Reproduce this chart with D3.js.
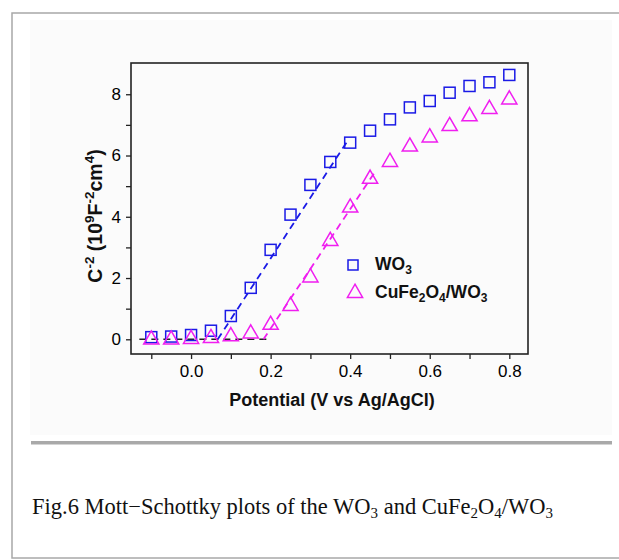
<!DOCTYPE html>
<html>
<head>
<meta charset="utf-8">
<script src="https://cdn.jsdelivr.net/npm/d3@7"></script>
<style>
  body { margin: 0; background: #fff; }
  text { font-family: Arial, "Liberation Sans", sans-serif; }
</style>
</head>
<body>
<script>
// potentials (V vs Ag/AgCl)
var potential = [-0.1, -0.05, 0.0, 0.05, 0.1, 0.15, 0.2, 0.25, 0.3, 0.35, 0.4, 0.45, 0.5, 0.55, 0.6, 0.65, 0.7, 0.75, 0.8];
// C^-2 values, 10^9 F^-2 cm^4
var wo3 = [0.07, 0.09, 0.14, 0.28, 0.76, 1.68, 2.92, 4.07, 5.04, 5.79, 6.42, 6.81, 7.18, 7.57, 7.78, 8.05, 8.27, 8.39, 8.63];
var cfoWo3 = [0.02, 0.02, 0.04, 0.07, 0.13, 0.22, 0.5, 1.12, 2.05, 3.24, 4.33, 5.27, 5.82, 6.32, 6.62, 6.99, 7.31, 7.55, 7.86];
// linear fits (dashed)
var fitWo3 = [[0.067, 0], [0.392, 6.45]];
var fitCfo = [[0.182, 0], [0.46, 5.42]];
var baseLine = [[-0.13, 0], [0.19, 0]];
var xTicks = [0.0, 0.2, 0.4, 0.6, 0.8];
var xMinor = [-0.1, 0.1, 0.3, 0.5, 0.7];
var yTicks = [0, 2, 4, 6, 8];
var yMinor = [1, 3, 5, 7];

var svg = d3.select("body").append("svg")
    .attr("width", 619).attr("height", 560);

// page frame
svg.append("rect")
    .attr("x", 12).attr("y", 13).attr("width", 640).attr("height", 545)
    .attr("fill", "#fff").attr("stroke", "#a8a8a8").attr("stroke-width", 1.5);

// faint image background
svg.append("rect")
    .attr("x", 30).attr("y", 20).attr("width", 582).attr("height", 415)
    .attr("fill", "#fbfbfb");

// separator
svg.append("rect")
    .attr("x", 31).attr("y", 441).attr("width", 581).attr("height", 3.5)
    .attr("fill", "#a9a9a9");

// caption
var cap = svg.append("text")
    .attr("x", 32).attr("y", 514)
    .style("font-family", "'Liberation Serif', 'Times New Roman', serif")
    .style("font-size", "22.5px").attr("fill", "#111");
cap.append("tspan").text("Fig.6 Mott\u2212Schottky plots of the WO");
cap.append("tspan").text("3").attr("dy", 4).style("font-size", "15px");
cap.append("tspan").text(" and CuFe").attr("dy", -4);
cap.append("tspan").text("2").attr("dy", 4).style("font-size", "15px");
cap.append("tspan").text("O").attr("dy", -4);
cap.append("tspan").text("4").attr("dy", 4).style("font-size", "15px");
cap.append("tspan").text("/WO").attr("dy", -4);
cap.append("tspan").text("3").attr("dy", 4).style("font-size", "15px");

// plot
var pLeft = 131, pTop = 63, pRight = 528, pBottom = 354;
var x = d3.scaleLinear().domain([-0.151, 0.847]).range([pLeft, pRight]);
var y = d3.scaleLinear().domain([-0.48, 9.02]).range([pBottom, pTop]);

var g = svg.append("g");

// axes
g.append("g").attr("transform", "translate(0," + pBottom + ")")
    .call(d3.axisBottom(x).tickValues(xTicks).tickSize(5).tickPadding(6).tickFormat(d3.format(".1f")));
g.append("g").attr("transform", "translate(0," + pBottom + ")")
    .call(d3.axisBottom(x).tickValues(xMinor).tickSize(5).tickFormat(""));
g.append("g").attr("transform", "translate(" + pLeft + ",0)")
    .call(d3.axisLeft(y).tickValues(yTicks).tickSize(5).tickPadding(5));
g.append("g").attr("transform", "translate(" + pLeft + ",0)")
    .call(d3.axisLeft(y).tickValues(yMinor).tickSize(5).tickFormat(""));

g.selectAll(".domain").remove();
g.selectAll(".tick line").attr("stroke", "#222").attr("stroke-width", 1.3);
g.selectAll(".tick text").attr("font-size", 17).style("font-size", "17px").attr("fill", "#000");

// box
g.append("rect")
    .attr("x", pLeft).attr("y", pTop).attr("width", pRight - pLeft).attr("height", pBottom - pTop)
    .attr("fill", "none").attr("stroke", "#222").attr("stroke-width", 1.6);

var line = d3.line().x(function(d) { return x(d[0]); }).y(function(d) { return y(d[1]); });

g.append("path").attr("d", line(baseLine))
    .attr("stroke", "#222").attr("stroke-width", 1.6).attr("stroke-dasharray", "7,5").attr("fill", "none");
g.append("path").attr("d", line(fitWo3))
    .attr("stroke", "#1a1ae6").attr("stroke-width", 1.8).attr("stroke-dasharray", "7,5").attr("fill", "none");
g.append("path").attr("d", line(fitCfo))
    .attr("stroke", "#f01ef0").attr("stroke-width", 1.8).attr("stroke-dasharray", "7,5").attr("fill", "none");

var sq = 11;
g.selectAll(".sq").data(potential).enter().append("rect")
    .attr("x", function(d) { return x(d) - sq / 2; })
    .attr("y", function(d, i) { return y(wo3[i]) - sq / 2; })
    .attr("width", sq).attr("height", sq)
    .attr("fill", "none").attr("stroke", "#1a1ae6").attr("stroke-width", 1.5);

var tri = d3.symbol().type(d3.symbolTriangle).size(100);
g.selectAll(".tri").data(potential).enter().append("path")
    .attr("d", tri)
    .attr("transform", function(d, i) { return "translate(" + x(d) + "," + (y(cfoWo3[i]) + 1) + ")"; })
    .attr("fill", "none").attr("stroke", "#f01ef0").attr("stroke-width", 1.5);

// legend
g.append("rect").attr("x", 348).attr("y", 260).attr("width", sq - 1).attr("height", sq - 1)
    .attr("fill", "none").attr("stroke", "#1a1ae6").attr("stroke-width", 1.5);
g.append("path").attr("d", tri).attr("transform", "translate(355,293)")
    .attr("fill", "none").attr("stroke", "#f01ef0").attr("stroke-width", 1.5);

var l1 = g.append("text").attr("x", 375).attr("y", 270)
    .style("font-size", "17.5px").style("font-weight", "bold").attr("fill", "#111");
l1.append("tspan").text("WO");
l1.append("tspan").text("3").attr("dy", 4).style("font-size", "12px");

var l2 = g.append("text").attr("x", 375).attr("y", 298)
    .style("font-size", "17.5px").style("font-weight", "bold").attr("fill", "#111");
l2.append("tspan").text("CuFe");
l2.append("tspan").text("2").attr("dy", 4).style("font-size", "12px");
l2.append("tspan").text("O").attr("dy", -4);
l2.append("tspan").text("4").attr("dy", 4).style("font-size", "12px");
l2.append("tspan").text("/WO").attr("dy", -4);
l2.append("tspan").text("3").attr("dy", 4).style("font-size", "12px");

// axis titles
g.append("text").attr("x", 332).attr("y", 406)
    .attr("text-anchor", "middle")
    .style("font-size", "18px").style("font-weight", "bold").attr("fill", "#111")
    .text("Potential (V vs Ag/AgCl)");

var yl = g.append("text").attr("transform", "translate(102,216) rotate(-90)")
    .attr("text-anchor", "middle")
    .style("font-size", "19.5px").style("font-weight", "bold").attr("fill", "#111");
yl.append("tspan").text("C");
yl.append("tspan").text("-2").attr("dy", -8).style("font-size", "13.5px");
yl.append("tspan").text(" (10").attr("dy", 8);
yl.append("tspan").text("9").attr("dy", -8).style("font-size", "13.5px");
yl.append("tspan").text("F").attr("dy", 8);
yl.append("tspan").text("-2").attr("dy", -8).style("font-size", "13.5px");
yl.append("tspan").text("cm").attr("dy", 8);
yl.append("tspan").text("4").attr("dy", -8).style("font-size", "13.5px");
yl.append("tspan").text(")").attr("dy", 8);
</script>
</body>
</html>
